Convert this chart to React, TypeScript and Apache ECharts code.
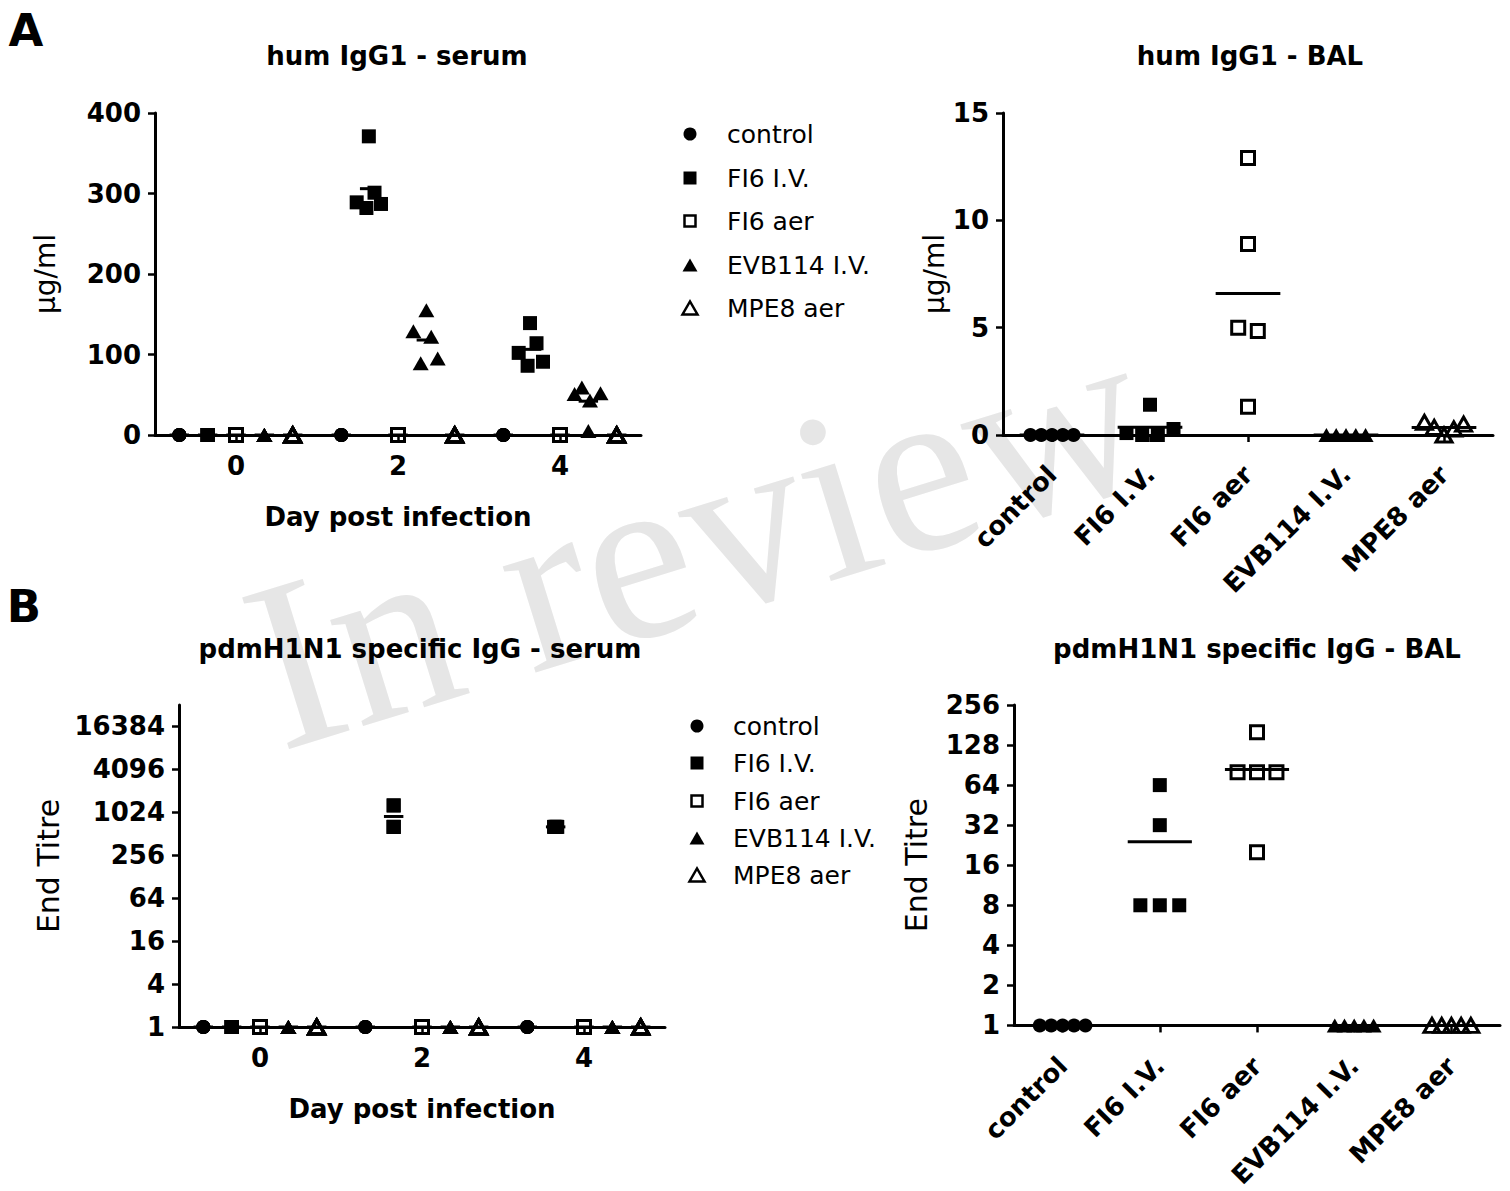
import React, { useEffect, useRef } from 'react';
import * as echarts from 'echarts';

const GROUPS = ['control', 'FI6 I.V.', 'FI6 aer', 'EVB114 I.V.', 'MPE8 aer'];
const DAYS = [0, 2, 4];
const DAY_TICKS = [0, 2, 4];
const CAT_TICKS = [0, 1, 2, 3, 4];
const SERUM_TITRE_TICKS = [1, 4, 16, 64, 256, 1024, 4096, 16384];
const BAL_TITRE_TICKS = [1, 2, 4, 8, 16, 32, 64, 128, 256];

// A left: hum IgG1 - serum (µg/ml), [day][mouse]
const serumUg_control = [[0, 0, 0, 0, 0], [0, 0, 0, 0, 0], [0, 0, 0, 0, 0]];
const serumUg_FI6iv = [[0, 0, 0, 0, 0], [371, 301, 289, 287, 282], [139, 114, 102, 91, 86]];
const serumUg_FI6aer = [[0, 0, 0, 0, 0], [0, 0, 0, 0, 0], [0, 0, 0, 0, 0]];
const serumUg_EVB114iv = [[0, 0, 0, 0, 0], [155, 129, 122, 89, 95], [51, 59, 52, 43, 5]];
const serumUg_MPE8aer = [[0, 0, 0, 0, 0], [0, 0, 0, 0, 0], [0, 0, 0, 0, 0]];
// horizontal scatter of points inside a column (in days)
const noSpread = [[0, 0, 0, 0, 0], [0, 0, 0, 0, 0], [0, 0, 0, 0, 0]];
const serumUgSpread_FI6iv = [[0, 0, 0, 0, 0], [-0.01, 0.06, -0.16, 0.14, -0.04], [-0.02, 0.06, -0.16, 0.14, -0.05]];
const serumUgSpread_EVB114iv = [[0, 0, 0, 0, 0], [0, -0.16, 0.06, -0.07, 0.14], [-0.17, -0.08, 0.15, 0.02, 0]];

// A right: hum IgG1 - BAL (µg/ml)
const balUg_control = [0, 0, 0, 0, 0];
const balUg_FI6iv = [1.41, 0.09, 0, 0, 0.28];
const balUg_FI6aer = [12.9, 8.9, 5.0, 4.85, 1.32];
const balUg_EVB114iv = [0, 0, 0, 0, 0];
const balUg_MPE8aer = [0.59, 0.35, 0, 0.28, 0.51];
const balUgSpread_control = [-0.22, -0.11, 0, 0.11, 0.22];
const balUgSpread_FI6iv = [0, -0.24, -0.08, 0.08, 0.24];
const balUgSpread_FI6aer = [0, 0, -0.1, 0.1, 0];
const balUgSpread_EVB114iv = [-0.2, -0.1, 0, 0.1, 0.2];
const balUgSpread_MPE8aer = [-0.2, -0.1, 0, 0.1, 0.2];

// B left: pdmH1N1 specific IgG - serum (end titre), [day][mouse]
const serumTitre_control = [[1, 1, 1, 1, 1], [1, 1, 1, 1, 1], [1, 1, 1, 1, 1]];
const serumTitre_FI6iv = [[1, 1, 1, 1, 1], [1280, 1280, 640, 640, 640], [640, 640, 640, 640, 640]];
const serumTitre_FI6aer = [[1, 1, 1, 1, 1], [1, 1, 1, 1, 1], [1, 1, 1, 1, 1]];
const serumTitre_EVB114iv = [[1, 1, 1, 1, 1], [1, 1, 1, 1, 1], [1, 1, 1, 1, 1]];
const serumTitre_MPE8aer = [[1, 1, 1, 1, 1], [1, 1, 1, 1, 1], [1, 1, 1, 1, 1]];
const serumTitreSpread_FI6iv = [[0, 0, 0, 0, 0], [0, 0, 0, 0, 0], [-0.02, -0.01, 0, 0.01, 0.02]];

// B right: pdmH1N1 specific IgG - BAL (end titre)
const balTitre_control = [1, 1, 1, 1, 1];
const balTitre_FI6iv = [64, 32, 8, 8, 8];
const balTitre_FI6aer = [160, 80, 80, 80, 20];
const balTitre_EVB114iv = [1, 1, 1, 1, 1];
const balTitre_MPE8aer = [1, 1, 1, 1, 1];
const balTitreSpread_control = [-0.235, -0.1175, 0, 0.1175, 0.235];
const balTitreSpread_FI6iv = [0, 0, -0.2, 0, 0.2];
const balTitreSpread_FI6aer = [0, -0.2, 0, 0.2, 0];
const balTitreSpread_EVB114iv = [-0.2, -0.1, 0, 0.1, 0.2];
const balTitreSpread_MPE8aer = [-0.2, -0.1, 0, 0.1, 0.2];

const FONT = '"DejaVu Sans", sans-serif';
const GROUP_SHIFT = [-0.7, -0.35, 0, 0.35, 0.7];

const MARKS: any[] = [
  { symbol: 'circle', symbolSize: 14, itemStyle: { color: '#000', opacity: 1 } },
  { symbol: 'rect', symbolSize: 14, itemStyle: { color: '#000', opacity: 1 } },
  { symbol: 'rect', symbolSize: 13, itemStyle: { color: 'rgba(0,0,0,0)', borderColor: '#000', borderWidth: 3, opacity: 1 } },
  { symbol: 'triangle', symbolSize: [16, 14], itemStyle: { color: '#000', opacity: 1 } },
  { symbol: 'triangle', symbolSize: [16, 14], itemStyle: { color: 'rgba(0,0,0,0)', borderColor: '#000', borderWidth: 3, opacity: 1 } },
];

const avg = (a: number[]) => a.reduce((s, v) => s + v, 0) / a.length;
const ident = (v: number) => v;

function meanSeries(axis: number, data: number[][], hw: number) {
  return {
    type: 'custom',
    xAxisIndex: axis,
    yAxisIndex: axis,
    z: 4,
    silent: true,
    encode: { x: 0, y: 1 },
    data,
    renderItem: (params: any, api: any) => {
      const x = api.value(0);
      const y = api.value(1);
      const a = api.coord([x - hw, y]);
      const b = api.coord([x + hw, y]);
      return {
        type: 'line',
        shape: { x1: a[0], y1: a[1], x2: b[0], y2: b[1] },
        style: { stroke: '#000', lineWidth: 3 },
      };
    },
  };
}

function timeSeries(values: number[][][], spreads: number[][][], axis: number, toY: (v: number) => number) {
  const out: any[] = [];
  const means: number[][] = [];
  GROUPS.forEach((name, g) => {
    const data: number[][] = [];
    DAYS.forEach((day, d) => {
      values[g][d].forEach((v, i) => data.push([day + GROUP_SHIFT[g] + spreads[g][d][i], toY(v)]));
      means.push([day + GROUP_SHIFT[g], toY(avg(values[g][d]))]);
    });
    out.push({
      type: 'scatter', name, xAxisIndex: axis, yAxisIndex: axis, data, clip: false, z: 3,
      emphasis: { disabled: true }, ...MARKS[g],
    });
  });
  out.push(meanSeries(axis, means, 0.12));
  return out;
}

function catSeries(values: number[][], spreads: number[][], axis: number, toY: (v: number) => number) {
  const out: any[] = [];
  const means: number[][] = [];
  GROUPS.forEach((name, g) => {
    const data = values[g].map((v, i) => [g + spreads[g][i], toY(v)]);
    means.push([g, toY(avg(values[g]))]);
    out.push({
      type: 'scatter', name, xAxisIndex: axis, yAxisIndex: axis, data, clip: false, z: 3,
      emphasis: { disabled: true }, ...MARKS[g],
    });
  });
  out.push(meanSeries(axis, means, 0.33));
  return out;
}

const LINE = { show: true, onZero: false, lineStyle: { color: '#000', width: 3 } };
const tick = (custom?: number[]) => ({
  show: true, length: 7, lineStyle: { color: '#000', width: 2.5 }, ...(custom ? { customValues: custom } : {}),
});
const label = (extra: any) => ({ color: '#000', fontFamily: FONT, fontWeight: 'bold', fontSize: 26, margin: 14, ...extra });

function legend(mx: number, tx: number, rows: number[]) {
  const els: any[] = [];
  rows.forEach((cy, g) => {
    const cx = mx;
    if (g === 0) els.push({ type: 'circle', shape: { cx, cy, r: 6.5 }, style: { fill: '#000' } });
    if (g === 1) els.push({ type: 'rect', shape: { x: cx - 6.5, y: cy - 6.5, width: 13, height: 13 }, style: { fill: '#000' } });
    if (g === 2) els.push({ type: 'rect', shape: { x: cx - 5.5, y: cy - 5.5, width: 11, height: 11 }, style: { fill: 'none', stroke: '#000', lineWidth: 2.5 } });
    if (g === 3) els.push({ type: 'polygon', shape: { points: [[cx - 7.5, cy + 6.5], [cx + 7.5, cy + 6.5], [cx, cy - 6.5]] }, style: { fill: '#000' } });
    if (g === 4) els.push({ type: 'polygon', shape: { points: [[cx - 7.5, cy + 6.5], [cx + 7.5, cy + 6.5], [cx, cy - 6.5]] }, style: { fill: 'none', stroke: '#000', lineWidth: 2.5 } });
    els.push({
      type: 'text', x: tx, y: cy,
      style: { text: GROUPS[g], fill: '#000', fontFamily: FONT, fontSize: 25, textAlign: 'left', textVerticalAlign: 'middle' },
    });
  });
  return els;
}

function title(text: string, x: number, y: number, size = 26) {
  return {
    type: 'text', x, y,
    style: { text, fill: '#000', fontFamily: FONT, fontWeight: 'bold', fontSize: size, textAlign: 'center', textVerticalAlign: 'middle' },
  };
}

function buildOption() {
  const serumUg = [serumUg_control, serumUg_FI6iv, serumUg_FI6aer, serumUg_EVB114iv, serumUg_MPE8aer];
  const serumUgSpread = [noSpread, serumUgSpread_FI6iv, noSpread, serumUgSpread_EVB114iv, noSpread];
  const balUg = [balUg_control, balUg_FI6iv, balUg_FI6aer, balUg_EVB114iv, balUg_MPE8aer];
  const balUgSpread = [balUgSpread_control, balUgSpread_FI6iv, balUgSpread_FI6aer, balUgSpread_EVB114iv, balUgSpread_MPE8aer];
  const serumTitre = [serumTitre_control, serumTitre_FI6iv, serumTitre_FI6aer, serumTitre_EVB114iv, serumTitre_MPE8aer];
  const serumTitreSpread = [noSpread, serumTitreSpread_FI6iv, noSpread, noSpread, noSpread];
  const balTitre = [balTitre_control, balTitre_FI6iv, balTitre_FI6aer, balTitre_EVB114iv, balTitre_MPE8aer];
  const balTitreSpread = [balTitreSpread_control, balTitreSpread_FI6iv, balTitreSpread_FI6aer, balTitreSpread_EVB114iv, balTitreSpread_MPE8aer];

  const pow2 = (v: number) => String(Math.round(Math.pow(2, v)));
  const nameStyle = { color: '#000', fontFamily: FONT, fontSize: 28 };
  const xNameStyle = { color: '#000', fontFamily: FONT, fontSize: 26, fontWeight: 'bold' };

  return {
    animation: false,
    backgroundColor: '#fff',
    grid: [
      { left: 155, top: 113, width: 486, height: 322 },
      { left: 1003, top: 113, width: 490, height: 322 },
      { left: 179, top: 705, width: 486, height: 322 },
      { left: 1014, top: 705, width: 486, height: 322 },
    ],
    xAxis: [
      {
        type: 'value', gridIndex: 0, min: -1, max: 5, axisLine: LINE, axisTick: tick(DAY_TICKS), splitLine: { show: false },
        axisLabel: label({ customValues: DAY_TICKS, margin: 18 }),
        name: 'Day post infection', nameLocation: 'middle', nameGap: 69, nameTextStyle: xNameStyle,
      },
      {
        type: 'value', gridIndex: 1, min: -0.5, max: 4.5, axisLine: LINE, axisTick: tick(CAT_TICKS), splitLine: { show: false },
        axisLabel: label({ customValues: CAT_TICKS, rotate: 45, margin: 35, formatter: (v: number) => GROUPS[Math.round(v)] }),
      },
      {
        type: 'value', gridIndex: 2, min: -1, max: 5, axisLine: LINE, axisTick: tick(DAY_TICKS), splitLine: { show: false },
        axisLabel: label({ customValues: DAY_TICKS, margin: 18 }),
        name: 'Day post infection', nameLocation: 'middle', nameGap: 69, nameTextStyle: xNameStyle,
      },
      {
        type: 'value', gridIndex: 3, min: -0.5, max: 4.5, axisLine: LINE, axisTick: tick(CAT_TICKS), splitLine: { show: false },
        axisLabel: label({ customValues: CAT_TICKS, rotate: 45, margin: 36, formatter: (v: number) => GROUPS[Math.round(v)] }),
      },
    ],
    yAxis: [
      {
        type: 'value', gridIndex: 0, min: 0, max: 400, interval: 100, axisLine: LINE, axisTick: tick(), splitLine: { show: false },
        axisLabel: label({}), name: 'µg/ml', nameLocation: 'middle', nameGap: 96, nameTextStyle: nameStyle,
      },
      {
        type: 'value', gridIndex: 1, min: 0, max: 15, interval: 5, axisLine: LINE, axisTick: tick(), splitLine: { show: false },
        axisLabel: label({}), name: 'µg/ml', nameLocation: 'middle', nameGap: 54, nameTextStyle: nameStyle,
      },
      {
        type: 'value', gridIndex: 2, min: 0, max: 15, axisLine: LINE,
        axisTick: tick(SERUM_TITRE_TICKS.map(Math.log2)), splitLine: { show: false },
        axisLabel: label({ customValues: SERUM_TITRE_TICKS.map(Math.log2), formatter: pow2 }),
        name: 'End Titre', nameLocation: 'middle', nameGap: 116, nameTextStyle: { ...nameStyle, fontSize: 30 },
      },
      {
        type: 'value', gridIndex: 3, min: 0, max: 8, axisLine: LINE,
        axisTick: tick(BAL_TITRE_TICKS.map(Math.log2)), splitLine: { show: false },
        axisLabel: label({ customValues: BAL_TITRE_TICKS.map(Math.log2), formatter: pow2 }),
        name: 'End Titre', nameLocation: 'middle', nameGap: 83, nameTextStyle: { ...nameStyle, fontSize: 30 },
      },
    ],
    graphic: {
      elements: [
        {
          type: 'text', x: 696, y: 537, rotation: 0.30, z: -10, silent: true,
          style: { text: 'In review', fill: '#e6e6e6', fontFamily: '"Liberation Serif", serif', fontSize: 242, textAlign: 'center', textVerticalAlign: 'middle' },
        },
        title('A', 26, 30, 45),
        title('B', 24, 606, 45),
        title('hum IgG1 - serum', 397, 56),
        title('hum IgG1 - BAL', 1250, 56),
        title('pdmH1N1 specific IgG - serum', 420, 649),
        title('pdmH1N1 specific IgG - BAL', 1257, 649),
        ...legend(690, 727, [134, 178, 221, 265, 308]),
        ...legend(697, 733, [726, 763, 801, 838, 875]),
      ],
    },
    series: [
      ...timeSeries(serumUg, serumUgSpread, 0, ident),
      ...catSeries(balUg, balUgSpread, 1, ident),
      ...timeSeries(serumTitre, serumTitreSpread, 2, Math.log2),
      ...catSeries(balTitre, balTitreSpread, 3, Math.log2),
    ],
  };
}

export default function App() {
  const ref = useRef<HTMLDivElement>(null);
  useEffect(() => {
    document.body.style.margin = '0';
    const chart = echarts.init(ref.current as HTMLDivElement, null, { renderer: 'svg' });
    chart.setOption(buildOption() as any);
    return () => chart.dispose();
  }, []);
  return <div ref={ref} style={{ width: 1510, height: 1191 }} />;
}
